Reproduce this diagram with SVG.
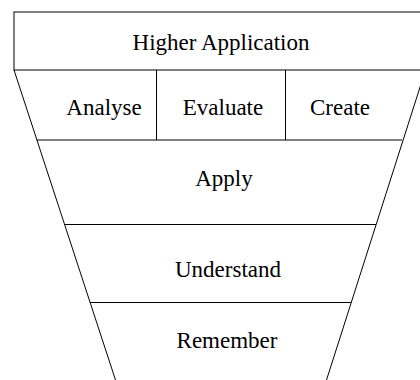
<svg xmlns="http://www.w3.org/2000/svg" width="420" height="380" viewBox="0 0 420 380">
<style>
.ln{stroke:#000;stroke-width:1;fill:none}
.t{font-family:"Liberation Serif","Times New Roman",serif;font-size:23px;fill:#000;text-anchor:middle}
</style>
<rect width="420" height="380" fill="#fff"/>
<g id="connectors">
<line class="ln" x1="14" y1="70" x2="115.5" y2="380"/>
<line class="ln" x1="425.5" y1="70" x2="326.5" y2="380"/>
</g>
<g id="higher"><rect class="ln" x="14" y="12" width="420" height="58"/><text class="t" x="221" y="50">Higher Application</text></g>
<g id="analyse"><line class="ln" x1="156.5" y1="70" x2="156.5" y2="140"/><text class="t" x="104" y="115">Analyse</text></g>
<g id="evaluate"><line class="ln" x1="285.5" y1="70" x2="285.5" y2="140"/><text class="t" x="223" y="115">Evaluate</text></g>
<g id="create"><text class="t" x="340" y="115">Create</text></g>
<g id="apply"><line class="ln" x1="37" y1="140" x2="402" y2="140"/><text class="t" x="224" y="186">Apply</text></g>
<g id="understand"><line class="ln" x1="64.5" y1="224.5" x2="376" y2="224.5"/><text class="t" x="228" y="277">Understand</text></g>
<g id="remember"><line class="ln" x1="90" y1="302.5" x2="351" y2="302.5"/><text class="t" x="227" y="348">Remember</text></g>
</svg>
